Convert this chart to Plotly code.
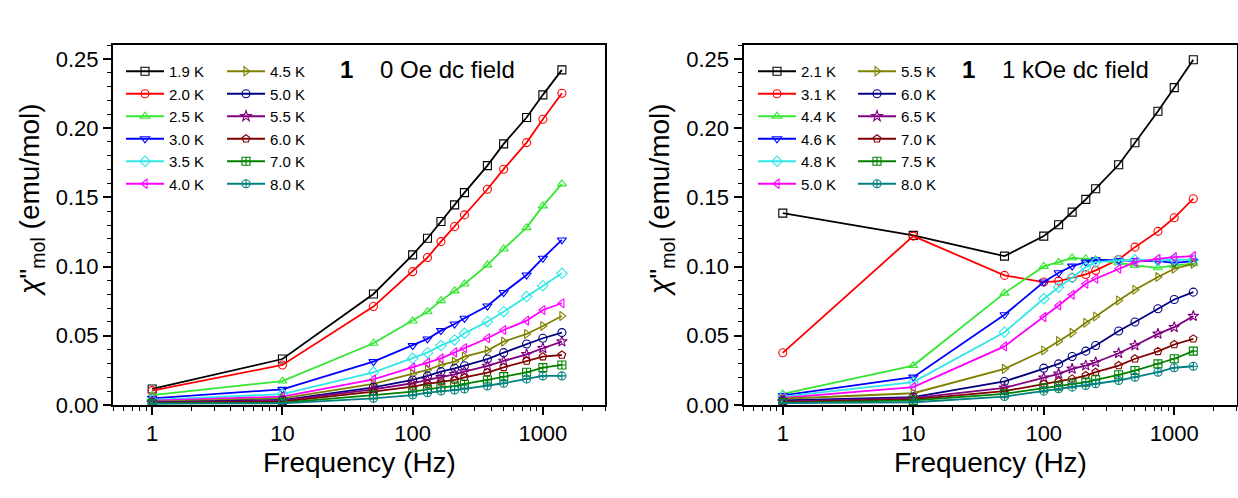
import plotly.graph_objects as go

# ---------------- data ----------------
freq = [1, 10, 50, 100, 130, 165, 210, 250, 375, 500, 750, 1000, 1400]

# 0 Oe dc field
temps_zf = ["1.9 K", "2.0 K", "2.5 K", "3.0 K", "3.5 K", "4.0 K",
            "4.5 K", "5.0 K", "5.5 K", "6.0 K", "7.0 K", "8.0 K"]
zf_1p9 = [0.0116, 0.0332, 0.0802, 0.1084, 0.1204, 0.1325, 0.1445, 0.1534, 0.1729, 0.1886, 0.2076, 0.2240, 0.2420]
zf_2p0 = [0.0104, 0.0289, 0.0711, 0.0963, 0.1065, 0.1180, 0.1289, 0.1373, 0.1558, 0.1703, 0.1895, 0.2064, 0.2252]
zf_2p5 = [0.0072, 0.0173, 0.0446, 0.0607, 0.0674, 0.0754, 0.0824, 0.0874, 0.1012, 0.1127, 0.1281, 0.1438, 0.1597]
zf_3p0 = [0.0048, 0.0113, 0.0313, 0.0429, 0.0477, 0.0537, 0.0585, 0.0626, 0.0715, 0.0812, 0.0939, 0.1060, 0.1192]
zf_3p5 = [0.0036, 0.0079, 0.0236, 0.0337, 0.0378, 0.0429, 0.0470, 0.0518, 0.0602, 0.0674, 0.0783, 0.0862, 0.0951]
zf_4p0 = [0.0031, 0.0060, 0.0185, 0.0270, 0.0306, 0.0337, 0.0380, 0.0410, 0.0482, 0.0542, 0.0609, 0.0686, 0.0735]
zf_4p5 = [0.0024, 0.0048, 0.0152, 0.0222, 0.0253, 0.0289, 0.0313, 0.0349, 0.0393, 0.0458, 0.0513, 0.0571, 0.0643]
zf_5p0 = [0.0019, 0.0036, 0.0128, 0.0181, 0.0210, 0.0241, 0.0265, 0.0284, 0.0332, 0.0378, 0.0441, 0.0482, 0.0523]
zf_5p5 = [0.0017, 0.0031, 0.0113, 0.0157, 0.0181, 0.0200, 0.0222, 0.0241, 0.0282, 0.0318, 0.0366, 0.0410, 0.0458]
zf_6p0 = [0.0014, 0.0024, 0.0096, 0.0132, 0.0152, 0.0169, 0.0181, 0.0200, 0.0234, 0.0272, 0.0318, 0.0349, 0.0361]
zf_7p0 = [0.0012, 0.0017, 0.0072, 0.0096, 0.0113, 0.0128, 0.0137, 0.0152, 0.0181, 0.0205, 0.0236, 0.0270, 0.0289]
zf_8p0 = [0.0010, 0.0012, 0.0048, 0.0072, 0.0089, 0.0101, 0.0108, 0.0116, 0.0137, 0.0157, 0.0188, 0.0210, 0.0210]

# 1 kOe dc field
temps_hf = ["2.1 K", "3.1 K", "4.4 K", "4.6 K", "4.8 K", "5.0 K",
            "5.5 K", "6.0 K", "6.5 K", "7.0 K", "7.5 K", "8.0 K"]
hf_2p1 = [0.1386, 0.1225, 0.1075, 0.1220, 0.1302, 0.1393, 0.1485, 0.1562, 0.1735, 0.1894, 0.2121, 0.2292, 0.2494]
hf_3p1 = [0.0377, 0.1220, 0.0936, 0.0888, 0.0895, 0.0919, 0.0943, 0.0972, 0.1051, 0.1140, 0.1254, 0.1352, 0.1490]
hf_4p4 = [0.0081, 0.0285, 0.0808, 0.1001, 0.1032, 0.1063, 0.1056, 0.1049, 0.1027, 0.1008, 0.0991, 0.1008, 0.1020]
hf_4p6 = [0.0069, 0.0201, 0.0652, 0.0888, 0.0955, 0.1003, 0.1032, 0.1049, 0.1044, 0.1044, 0.1039, 0.1027, 0.1039]
hf_4p8 = [0.0061, 0.0165, 0.0526, 0.0767, 0.0851, 0.0919, 0.0996, 0.1032, 0.1044, 0.1049, 0.1044, 0.1049, 0.1049]
hf_5p0 = [0.0052, 0.0129, 0.0423, 0.0635, 0.0719, 0.0796, 0.0876, 0.0912, 0.0984, 0.1032, 0.1056, 0.1068, 0.1075]
hf_5p5 = [0.0045, 0.0085, 0.0261, 0.0394, 0.0461, 0.0521, 0.0594, 0.0639, 0.0755, 0.0832, 0.0924, 0.0984, 0.1020]
hf_6p0 = [0.0033, 0.0057, 0.0170, 0.0266, 0.0297, 0.0350, 0.0389, 0.0430, 0.0534, 0.0599, 0.0695, 0.0762, 0.0815]
hf_6p5 = [0.0025, 0.0049, 0.0124, 0.0196, 0.0225, 0.0261, 0.0285, 0.0309, 0.0374, 0.0430, 0.0514, 0.0562, 0.0642]
hf_7p0 = [0.0020, 0.0040, 0.0100, 0.0153, 0.0170, 0.0189, 0.0213, 0.0237, 0.0285, 0.0334, 0.0387, 0.0437, 0.0478]
hf_7p5 = [0.0016, 0.0033, 0.0081, 0.0124, 0.0136, 0.0153, 0.0165, 0.0182, 0.0218, 0.0249, 0.0297, 0.0334, 0.0389]
hf_8p0 = [0.0013, 0.0020, 0.0061, 0.0100, 0.0117, 0.0129, 0.0141, 0.0153, 0.0177, 0.0201, 0.0237, 0.0269, 0.0280]

x_tick_vals = [1, 10, 100, 1000]
x_tick_text = ["1", "10", "100", "1000"]
y_tick_vals = [0.00, 0.05, 0.10, 0.15, 0.20, 0.25]

# ---------------- styles ----------------
colors = ["#000000", "#ff0000", "#33e633", "#0000ff", "#33e6e6", "#ff00ff",
          "#808000", "#000080", "#800080", "#800000", "#008000", "#008080"]
symbols = ["square-open", "circle-open", "triangle-up-open", "triangle-down-open",
           "diamond-open", "triangle-left-open", "triangle-right-open", "circle-open",
           "star-open", "pentagon-open", "square-cross-open", "circle-cross-open"]

series_zf = [zf_1p9, zf_2p0, zf_2p5, zf_3p0, zf_3p5, zf_4p0,
             zf_4p5, zf_5p0, zf_5p5, zf_6p0, zf_7p0, zf_8p0]
series_hf = [hf_2p1, hf_3p1, hf_4p4, hf_4p6, hf_4p8, hf_5p0,
             hf_5p5, hf_6p0, hf_6p5, hf_7p0, hf_7p5, hf_8p0]

W, H = 1238, 498
FONT = "Arial, Liberation Sans, sans-serif"

fig = go.Figure()


def add_panel(series, names, xa, ya, legends):
    for i, (vals, name) in enumerate(zip(series, names)):
        fig.add_trace(go.Scatter(
            x=freq, y=vals, name=name, mode="lines+markers",
            xaxis=xa, yaxis=ya,
            legend=legends[0] if i < 6 else legends[1],
            line=dict(color=colors[i], width=1.8),
            marker=dict(symbol=symbols[i], size=8, color=colors[i],
                        line=dict(color=colors[i], width=1.1)),
        ))


add_panel(series_zf, temps_zf, "x", "y", ["legend", "legend2"])
add_panel(series_hf, temps_hf, "x2", "y2", ["legend3", "legend4"])


def px_x(p):
    return p / W


def px_y(p):
    return 1 - p / H


minor_x = [m * 10 ** e for e in range(-1, 4) for m in range(2, 10)]

xaxis_common = dict(
    type="log", range=[-0.30103, 3.4771], tickmode="array",
    tickvals=x_tick_vals, ticktext=x_tick_text,
    ticks="outside", ticklen=8, tickwidth=1.5, tickcolor="black",
    minor=dict(tickmode="array", tickvals=minor_x, ticks="outside",
               ticklen=4, tickwidth=1.2, tickcolor="black"),
    showline=True, linecolor="black", linewidth=2, mirror=True,
    showgrid=False, zeroline=False, automargin=False,
    tickfont=dict(family=FONT, size=22, color="black"),
)
yaxis_common = dict(
    range=[0, 0.26], tickmode="array", tickvals=y_tick_vals, tickformat=".2f",
    ticks="outside", ticklen=8, tickwidth=1.5, tickcolor="black",
    minor=dict(dtick=0.01, ticks="outside", ticklen=4, tickwidth=1.2, tickcolor="black"),
    showline=True, linecolor="black", linewidth=2, mirror=True,
    showgrid=False, zeroline=False, automargin=False,
    tickfont=dict(family=FONT, size=22, color="black"),
)

y_dom = [px_y(405), px_y(45)]

legend_common = dict(
    bgcolor="rgba(0,0,0,0)", borderwidth=0, xanchor="left", yanchor="top",
    font=dict(family=FONT, size=15, color="black"), itemwidth=38,
    tracegroupgap=0,
)

LEG_TOP = 55
fig.update_layout(
    width=W, height=H, template="none",
    margin=dict(l=0, r=0, t=0, b=0),
    paper_bgcolor="white", plot_bgcolor="white",
    showlegend=True,
    xaxis=dict(domain=[px_x(113), px_x(605)], anchor="y", **xaxis_common),
    yaxis=dict(domain=y_dom, anchor="x", **yaxis_common),
    xaxis2=dict(domain=[px_x(743.5), px_x(1236.5)], anchor="y2", **xaxis_common),
    yaxis2=dict(domain=y_dom, anchor="x2", **yaxis_common),
    legend=dict(x=px_x(121), y=px_y(LEG_TOP), **legend_common),
    legend2=dict(x=px_x(222), y=px_y(LEG_TOP), **legend_common),
    legend3=dict(x=px_x(753), y=px_y(LEG_TOP), **legend_common),
    legend4=dict(x=px_x(853), y=px_y(LEG_TOP), **legend_common),
)

ann_font_big = dict(family=FONT, size=24, color="black")
title_font = dict(family=FONT, size=28, color="black")
annotations = [
    dict(text="<b>1</b>", x=px_x(338), y=px_y(70), xanchor="left", yanchor="middle", font=ann_font_big),
    dict(text="0 Oe dc field", x=px_x(378), y=px_y(70), xanchor="left", yanchor="middle", font=ann_font_big),
    dict(text="<b>1</b>", x=px_x(960), y=px_y(70), xanchor="left", yanchor="middle", font=ann_font_big),
    dict(text="1 kOe dc field", x=px_x(1000), y=px_y(70), xanchor="left", yanchor="middle", font=ann_font_big),
    dict(text="Frequency (Hz)", x=px_x(359), y=px_y(462), xanchor="center", yanchor="middle", font=title_font),
    dict(text="Frequency (Hz)", x=px_x(990), y=px_y(462), xanchor="center", yanchor="middle", font=title_font),
    dict(text="<i>χ</i>\"<sub>mol</sub> (emu/mol)", x=px_x(31), y=px_y(200), textangle=-90,
         xanchor="center", yanchor="middle", font=title_font),
    dict(text="<i>χ</i>\"<sub>mol</sub> (emu/mol)", x=px_x(661), y=px_y(200), textangle=-90,
         xanchor="center", yanchor="middle", font=title_font),
]
for a in annotations:
    a.update(xref="paper", yref="paper", showarrow=False)
fig.update_layout(annotations=annotations)

fig.write_html("out.html")
